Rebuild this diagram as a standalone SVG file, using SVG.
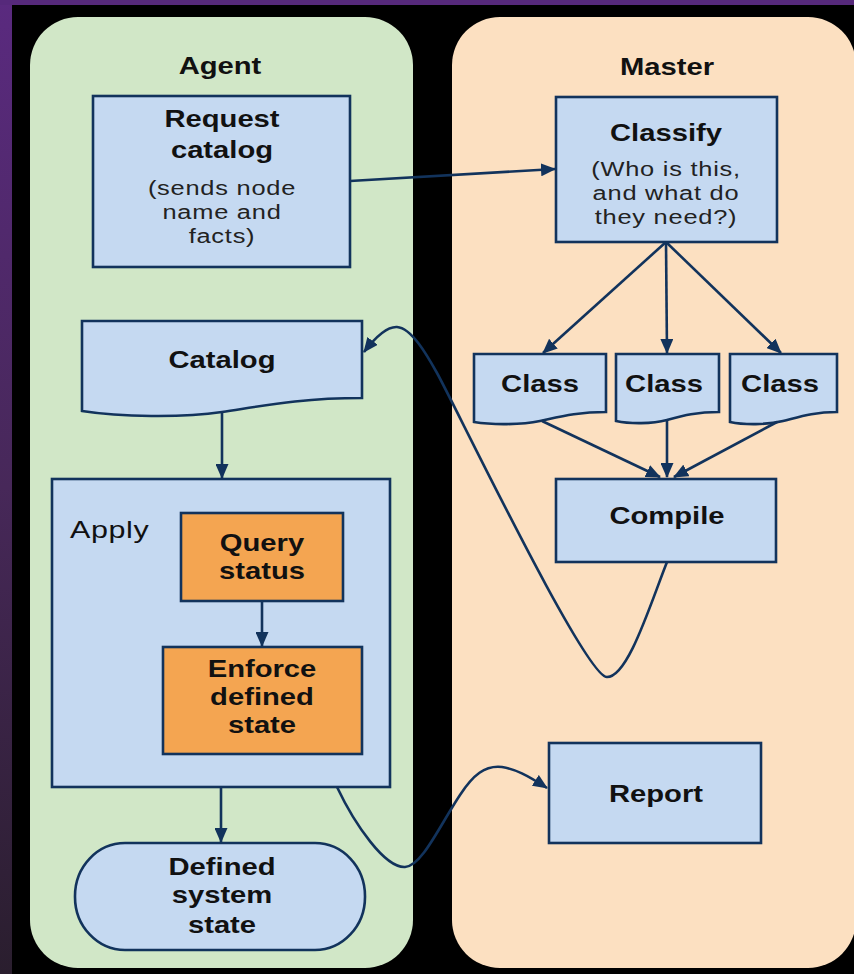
<svg xmlns="http://www.w3.org/2000/svg" width="854" height="974" viewBox="0 0 854 974">
<defs>
<linearGradient id="side" x1="0" y1="0" x2="0" y2="1">
<stop offset="0" stop-color="#5a2a7f"/>
<stop offset="0.5" stop-color="#472859"/>
<stop offset="1" stop-color="#2a1e2e"/>
</linearGradient>
<marker id="ah" viewBox="0 0 15 13" refX="14" refY="6.5" markerWidth="15" markerHeight="13" markerUnits="userSpaceOnUse" orient="auto">
<path d="M0,0 L15,6.5 L0,13 Z" fill="#12335c"/>
</marker>
</defs>
<style>
.node{fill:#c5d9f1;stroke:#12335c;stroke-width:2.6}
.orange{fill:#f4a551;stroke:#12335c;stroke-width:2.6}
.conn{fill:none;stroke:#12335c;stroke-width:2.6;marker-end:url(#ah)}
text{font-family:"Liberation Sans",Arial,sans-serif;text-anchor:middle;fill:#111}
.b{font-size:23px;font-weight:bold}
.r{font-size:20px;fill:#222;letter-spacing:0.6px}
.t{font-size:23px;font-weight:bold}
</style>
<rect x="0" y="0" width="854" height="974" fill="#000"/>
<rect x="0" y="0" width="12" height="974" fill="url(#side)"/>
<rect x="0" y="0" width="854" height="5" fill="#56297b"/>

<g id="agent-panel">
<rect x="30" y="17" width="383" height="951" rx="48" ry="48" fill="#d1e7c7"/>
<text class="t" transform="translate(220,74) scale(1.27,1)">Agent</text>
</g>
<g id="master-panel">
<rect x="452" y="17" width="404" height="951" rx="48" ry="48" fill="#fce0c1"/>
<text class="t" transform="translate(667,75) scale(1.27,1)">Master</text>
</g>

<g id="request-catalog">
<rect class="node" x="93" y="96" width="257" height="171"/>
<text class="b" transform="translate(222,127) scale(1.27,1)"><tspan x="0" y="0">Request</tspan><tspan x="0" y="31">catalog</tspan></text>
<text class="r" transform="translate(222,195) scale(1.27,1)"><tspan x="0" y="0">(sends node</tspan><tspan x="0" y="24">name and</tspan><tspan x="0" y="48">facts)</tspan></text>
</g>

<g id="classify">
<rect class="node" x="556" y="97" width="221" height="145"/>
<text class="b" transform="translate(666,141) scale(1.27,1)">Classify</text>
<text class="r" transform="translate(666,176) scale(1.27,1)"><tspan x="0" y="0">(Who is this,</tspan><tspan x="0" y="24">and what do</tspan><tspan x="0" y="48">they need?)</tspan></text>
</g>

<g id="catalog">
<path class="node" d="M82,321 H362 V398 C300,398 262,406 222,412 C182,418 120,417 82,411 Z"/>
<text class="b" transform="translate(222,368) scale(1.27,1)">Catalog</text>
</g>

<g id="class1">
<path class="node" d="M474,354 H606 V412 C577,412 559,417 540,421 C521,425 492,425 474,422 Z"/>
<text class="b" transform="translate(540,392) scale(1.27,1)">Class</text>
</g>
<g id="class2">
<path class="node" d="M616,354 H719 V412 C696,412 682,416 667,420 C652,424 630,424 616,421 Z"/>
<text class="b" transform="translate(664,392) scale(1.27,1)">Class</text>
</g>
<g id="class3">
<path class="node" d="M730,354 H837 V412 C813,412 799,417 783,421 C767,425 744,425 730,422 Z"/>
<text class="b" transform="translate(780,392) scale(1.27,1)">Class</text>
</g>

<g id="compile">
<rect class="node" x="556" y="479" width="220" height="83"/>
<text class="b" transform="translate(667,524) scale(1.27,1)">Compile</text>
</g>

<g id="apply">
<rect class="node" x="52" y="479" width="338" height="308"/>
<text style="font-size:24px;text-anchor:start;letter-spacing:0.5px" transform="translate(70,538) scale(1.27,1)">Apply</text>
</g>

<g id="query-status">
<rect class="orange" x="181" y="513" width="162" height="88"/>
<text class="b" transform="translate(262,551) scale(1.27,1)"><tspan x="0" y="0">Query</tspan><tspan x="0" y="28">status</tspan></text>
</g>

<g id="enforce">
<rect class="orange" x="163" y="647" width="199" height="107"/>
<text class="b" transform="translate(262,677) scale(1.27,1)"><tspan x="0" y="0">Enforce</tspan><tspan x="0" y="28">defined</tspan><tspan x="0" y="56">state</tspan></text>
</g>

<g id="defined-state">
<rect class="node" x="75" y="843" width="290" height="107" rx="50" ry="53"/>
<text class="b" transform="translate(222,875) scale(1.27,1)"><tspan x="0" y="0">Defined</tspan><tspan x="0" y="28">system</tspan><tspan x="0" y="58">state</tspan></text>
</g>

<g id="report">
<rect class="node" x="549" y="743" width="212" height="100"/>
<text class="b" transform="translate(656,802) scale(1.27,1)">Report</text>
</g>

<g id="connectors">
<path class="conn" d="M350,181 L555,169"/>
<path class="conn" d="M666,242 L543,353"/>
<path class="conn" d="M666,242 L667,353"/>
<path class="conn" d="M666,242 L781,353"/>
<path class="conn" d="M542,421 L660,477"/>
<path class="conn" d="M667,420 L667,477"/>
<path class="conn" d="M777,422 L674,477"/>
<path class="conn" d="M222,412 L222,478"/>
<path class="conn" d="M262,601 L262,646"/>
<path class="conn" d="M221,787 L221,842"/>
<path class="conn" d="M667,562 C650,605 628,677 607,677 C585,677 455,405 437,373 C428,357 412,328 397,327 C386,326.3 374,339 364,352"/>
<path class="conn" d="M337,787 C355,825 385,868 405,867 C422,866 440,825 460,795 C473,775 485,765 502,767 C515,769 527,775 547,788"/>
</g>
</svg>
